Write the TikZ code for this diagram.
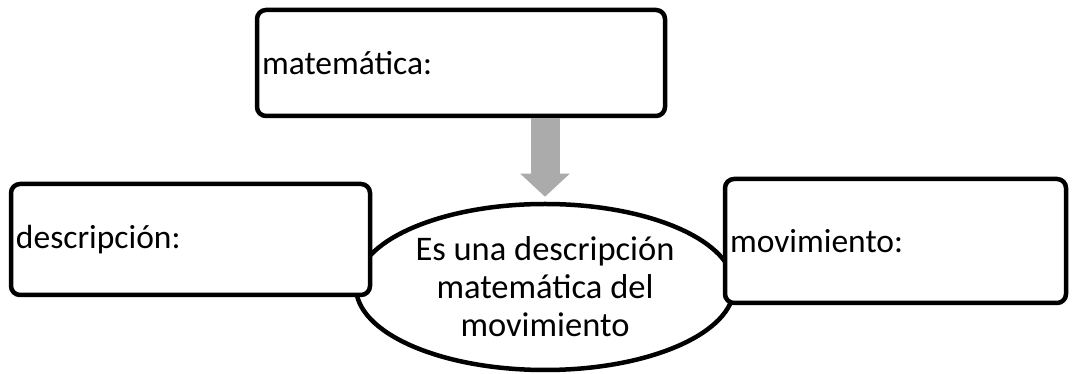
\documentclass[tikz,border=0pt]{standalone}
\usepackage{fontspec}
\setmainfont{Carlito}
\usetikzlibrary{positioning, shapes.geometric, arrows.meta}

\begin{document}
\begin{tikzpicture}[x=1pt, y=1pt,
concept/.style={rectangle, rounded corners=9pt, draw=black, line width=4.5pt, fill=white, align=left, inner xsep=5pt, font=\fontsize{33.5}{37}\selectfont},
idea/.style={ellipse, draw=black, line width=4.5pt, fill=white, align=center, inner sep=0pt, minimum width=378pt, minimum height=166pt, font=\fontsize{34.5}{38}\selectfont},
link/.style={line width=29pt, draw=black!33, -{Triangle[length=23pt, width=48pt]}},
]
\useasboundingbox (0,0) rectangle (1075,374);

%Nodes
\node [idea] (idea) at (545,87) {Es una descripción\\matemática del\\movimiento};
\node [concept, minimum width=408pt, minimum height=106pt, text width=398pt] (mat) at (461,311) {matemática:};
\node [concept, minimum width=359pt, minimum height=111pt, text width=349pt] (desc) at (190.5,134.5) {descripción:};
\node [concept, minimum width=341pt, minimum height=124pt, text width=331pt] (mov) at (895.5,133) {movimiento:};

% Paths
\draw [link, shorten >= 5pt] (idea.north |- mat.south) -- (idea.north);
\end{tikzpicture}
\end{document}
